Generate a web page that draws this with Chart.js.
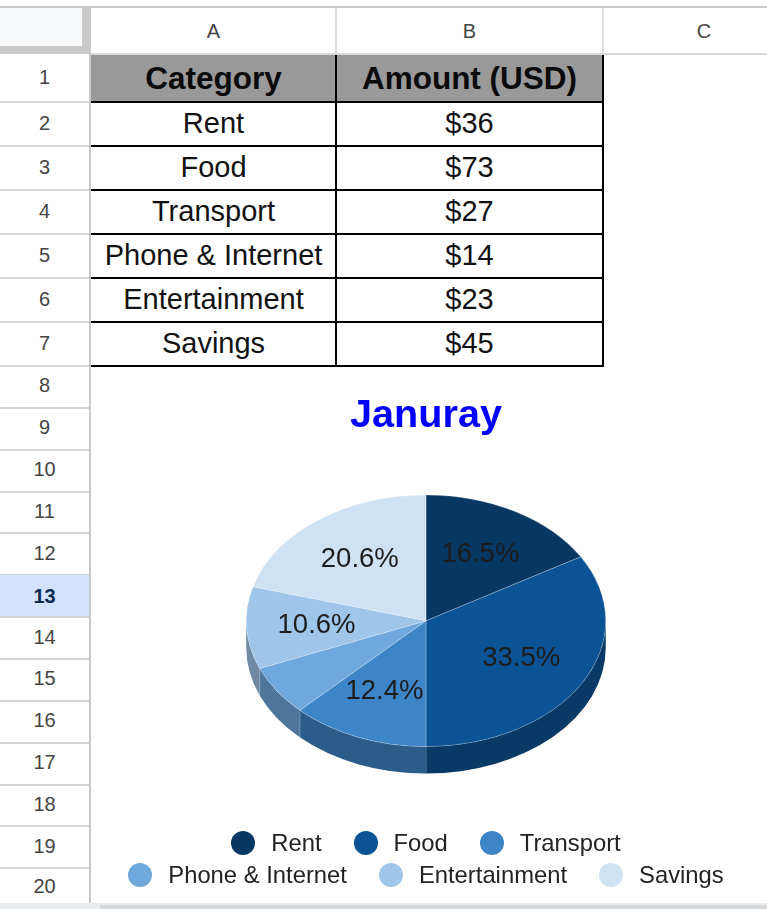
<!DOCTYPE html>
<html>
<head>
<meta charset="utf-8">
<title>Januray</title>
<script src="https://cdn.jsdelivr.net/npm/chart.js@4"></script>
<style>
  html, body { margin: 0; padding: 0; background: #fff; }
  body { width: 767px; height: 909px; overflow: hidden; position: relative; font-family: "Liberation Sans", Arial, sans-serif; }
  .box { position: absolute; box-sizing: border-box; }
  .cell { position: absolute; box-sizing: border-box; display: flex; align-items: center; justify-content: center; white-space: nowrap; }
  .head { font-size: 20px; color: #444; }
  .data { font-size: 29px; color: #111; }
  .title-cell { font-size: 31.5px; font-weight: bold; color: #0a0a0a; background: #999; }
  #chartWrap { position: absolute; left: 92px; top: 367px; width: 668px; height: 536px; }
  #legend { position: absolute; left: 116px; top: 829px; width: 620px; display: flex; flex-wrap: wrap; justify-content: center; column-gap: 32px; row-gap: 4px; }
  .item { display: flex; align-items: center; height: 28px; font-size: 23.8px; color: #222; white-space: nowrap; }
  .dot { width: 24px; height: 24px; border-radius: 50%; margin-right: 16px; }
</style>
</head>
<body>
<div id="sheet"></div>
<div id="chartWrap"><canvas id="pie" width="668" height="536"></canvas></div>
<div id="legend"></div>
<script>
// Budget table and pie contents
const chartTitle = "Januray";
const categories = ["Rent", "Food", "Transport", "Phone & Internet", "Entertainment", "Savings"];
const amounts = [36, 73, 27, 14, 23, 45];
const sliceColors = ["#073763", "#0b5394", "#3d85c6", "#6fa8dc", "#9fc5e8", "#cfe2f3"];
const columnHeaders = ["Category", "Amount (USD)"];
const columnLetters = ["A", "B", "C"];
const rowNumbers = ["1","2","3","4","5","6","7","8","9","10","11","12","13","14","15","16","17","18","19","20"];

const sheet = document.getElementById("sheet");
const gridLine = "#c9c9c9";
const rowLine = "#d4d4d4";

function box(x, y, w, h, bg) {
  const d = document.createElement("div");
  d.className = "box";
  d.style.cssText = `left:${x}px;top:${y}px;width:${w}px;height:${h}px;background:${bg}`;
  sheet.appendChild(d);
  return d;
}
function cell(x, y, w, h, text, cls) {
  const d = document.createElement("div");
  d.className = "cell " + cls;
  d.style.left = x + "px"; d.style.top = y + "px";
  d.style.width = w + "px"; d.style.height = h + "px";
  d.textContent = text;
  sheet.appendChild(d);
  return d;
}

// Spreadsheet frame: top rule, corner block and header bands
box(0, 6, 767, 2, gridLine);
box(0, 8, 82, 38, "#f8f9fa");
box(82, 8, 9, 46, gridLine);
box(0, 46, 91, 8, gridLine);

// Column C runs past the right edge of the window
const colEdges = [91, 336, 603, 805];
columnLetters.forEach((c, i) => {
  cell(colEdges[i], 8, colEdges[i + 1] - colEdges[i], 46, c, "head");
  if (i < 2) box(colEdges[i + 1] - 1, 8, 2, 46, "#dcdcdc");
});
box(91, 53, 676, 2, "#d9d9d9");

// Row header column: first seven rows are tall, the rest are shorter
const tableRowEdges = [55, 102, 146, 190, 234, 278, 322, 366];
function rowTop(i) {
  return i < 7 ? tableRowEdges[i] : 366 + 41.85 * (i - 7);
}
rowNumbers.forEach((n, i) => {
  const top = rowTop(i);
  const bottom = i === 19 ? 906 : rowTop(i + 1);
  const active = n === "13";
  const c = cell(0, top - 1, 89, bottom - top, n, "head");
  if (active) {
    c.style.top = top + "px";
    c.style.background = "#d3e3fd"; c.style.color = "#0b2a55"; c.style.fontWeight = "bold";
  }
  box(0, bottom - 1, 89, 2, rowLine);
});
box(89, 54, 2, 855, gridLine);

// Footer strip along the bottom edge
box(0, 903, 767, 6, "#e9eaec");
box(100, 905, 667, 4, "#d5d6d8");

// Budget table
const tableCols = [[91, 245], [336, 267]];
columnHeaders.forEach((h, i) => {
  cell(tableCols[i][0], 55, tableCols[i][1], 47, h, "title-cell");
});
categories.forEach((name, r) => {
  const top = tableRowEdges[r + 1], h = tableRowEdges[r + 2] - top;
  cell(tableCols[0][0], top - 1, tableCols[0][1], h, name, "data");
  cell(tableCols[1][0], top - 1, tableCols[1][1], h, "$" + amounts[r], "data");
});
tableRowEdges.slice(1).forEach(y => box(91, y - 1, 513, 2, "#000"));
box(335, 55, 2, 312, "#000");
box(602, 55, 2, 312, "#000");

// Legend rows wrap on their own inside the fixed-width container
const legend = document.getElementById("legend");
categories.forEach((name, i) => {
  const it = document.createElement("div");
  it.className = "item";
  const dot = document.createElement("span");
  dot.className = "dot";
  dot.style.background = sliceColors[i];
  it.appendChild(dot);
  it.appendChild(document.createTextNode(name));
  legend.appendChild(it);
});

// Tilt and extrusion of the pie
const tilt = 0.7;
const depth = 27;
const labelRadius = 0.61;
const minLabelShare = 0.07;

function shade(hex, f) {
  const n = parseInt(hex.slice(1), 16);
  const ch = s => Math.round(((n >> s) & 255) * f);
  return `rgb(${ch(16)},${ch(8)},${ch(0)})`;
}

const tiltedPie = {
  id: "tiltedPie",
  beforeDatasetsDraw(chart) {
    const { ctx } = chart;
    const arcs = chart.getDatasetMeta(0).data;
    // Wall of the pie: only the front half of the rim can be seen
    arcs.forEach((arc, i) => {
      const { x, y, startAngle, endAngle, outerRadius } = arc.getProps(["x", "y", "startAngle", "endAngle", "outerRadius"]);
      const a0 = Math.max(startAngle, 0), a1 = Math.min(endAngle, Math.PI);
      if (a1 <= a0) return;
      const ry = outerRadius * tilt;
      ctx.beginPath();
      ctx.ellipse(x, y + depth, outerRadius, ry, 0, a0, a1);
      ctx.ellipse(x, y, outerRadius, ry, 0, a1, a0, true);
      ctx.closePath();
      ctx.fillStyle = shade(sliceColors[i], 0.7);
      ctx.fill();
      if (endAngle < Math.PI) {
        const ex = x + outerRadius * Math.cos(endAngle), ey = y + ry * Math.sin(endAngle);
        ctx.beginPath();
        ctx.moveTo(ex, ey);
        ctx.lineTo(ex, ey + depth);
        ctx.strokeStyle = "rgba(255,255,255,0.35)";
        ctx.lineWidth = 1;
        ctx.stroke();
      }
    });
    // Flatten the top face around the pie's centre
    const c = arcs[0].getProps(["x", "y"]);
    ctx.save();
    ctx.translate(c.x, c.y);
    ctx.scale(1, tilt);
    ctx.translate(-c.x, -c.y);
  },
  afterDatasetsDraw(chart) {
    const { ctx } = chart;
    ctx.restore();
    const values = chart.data.datasets[0].data;
    const total = values.reduce((a, b) => a + b, 0);
    ctx.font = '27.5px "Liberation Sans", Arial, sans-serif';
    ctx.fillStyle = "#1c1c1c";
    ctx.textAlign = "center";
    ctx.textBaseline = "middle";
    chart.getDatasetMeta(0).data.forEach((arc, i) => {
      const share = values[i] / total;
      if (share < minLabelShare) return;
      const { x, y, startAngle, endAngle, outerRadius } = arc.getProps(["x", "y", "startAngle", "endAngle", "outerRadius"]);
      const mid = (startAngle + endAngle) / 2;
      const r = outerRadius * labelRadius;
      ctx.fillText((share * 100).toFixed(1) + "%", x + r * Math.cos(mid), y + r * tilt * Math.sin(mid));
    });
  }
};

new Chart(document.getElementById("pie"), {
  type: "pie",
  data: {
    labels: categories,
    datasets: [{
      data: amounts,
      backgroundColor: sliceColors,
      borderColor: "rgba(255,255,255,0.3)",
      borderWidth: 1,
      hoverOffset: 0
    }]
  },
  options: {
    responsive: false,
    animation: false,
    layout: { padding: { top: 0, bottom: 102, left: 0, right: 0 } },
    plugins: {
      legend: { display: false },
      tooltip: { enabled: false },
      title: {
        display: true,
        text: chartTitle,
        color: "#0000ff",
        font: { family: '"Liberation Sans", Arial, sans-serif', size: 39.6, weight: "bold" },
        padding: { top: 25, bottom: 1 }
      }
    }
  },
  plugins: [tiltedPie]
});
</script>
</body>
</html>
